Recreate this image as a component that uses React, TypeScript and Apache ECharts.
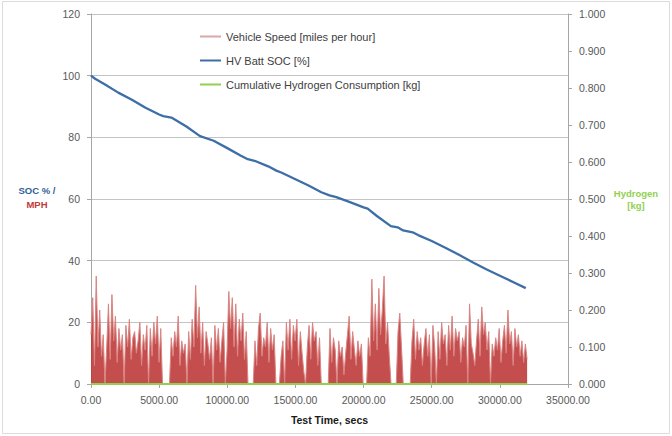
import React, { useEffect, useRef } from "react";
import * as echarts from "echarts";

// Test time step between speed samples (seconds)
const SPEED_STEP = 128;
// Vehicle speed [mph], sampled every SPEED_STEP seconds from t = 0
const speedValues: number[] = [
  16, 28, 6, 35, 12, 24, 9, 16, 0, 12, 26, 8, 29, 14, 22, 7, 18, 11, 16, 0,
  19, 12, 21, 8, 15, 17, 10, 14, 20, 6, 16, 11, 19, 0, 18, 9, 20, 13, 22, 7, 18,
  0, 0, 0, 0, 0,
  15, 9, 17, 12, 22, 6, 14, 10, 13, 0, 17, 8, 21, 12, 32, 15, 25, 10, 20, 6,
  17, 13, 8, 15, 0, 19, 11, 18, 7, 14, 20, 0, 11, 30, 18, 28, 12, 26, 9, 21,
  14, 23, 8, 17,
  0, 0, 0, 0,
  14, 6, 18, 23, 9, 15, 12, 20, 7, 18, 11, 16,
  0, 0, 0,
  9, 14, 0, 20, 11, 21, 8, 19, 14, 21, 6, 17, 10, 4, 0, 12, 19, 8, 20, 14, 17, 6, 15,
  0, 0, 0, 0, 0,
  18, 7, 15, 11, 0, 14, 9, 12, 3, 10, 16, 22, 8, 17, 11, 6, 14, 9, 13,
  0, 0, 0,
  15, 9, 34, 14, 26, 11, 31, 16, 24, 35, 13, 20, 9,
  0, 0, 0, 0,
  17, 23, 12,
  0, 0, 0, 0, 0,
  14, 21, 8, 17, 11, 15, 6, 13, 18, 9, 16, 0, 19, 12,
  0,
  17, 8, 20, 13, 16, 6, 19, 11, 22, 9, 18, 14, 17, 7, 15, 12, 19, 0, 26, 13,
  10, 6, 14, 21, 9, 25, 16, 20, 11, 17, 0, 13, 9, 15, 11, 18, 7, 14, 19, 10,
  24, 13, 17, 6, 18, 12, 16, 9, 14, 7, 13, 8,
];

// HV battery state of charge [%]
const socTimes: number[] = [
  0, 300, 1000, 2000, 3000, 4000, 5000, 5300, 5900, 7000, 8000, 9000, 10000,
  11000, 11500, 12000, 13000, 13600, 14000, 15000, 16000, 16900, 17500, 18000,
  19000, 20000, 20300, 21000, 22000, 22500, 22900, 23600, 24000, 25000, 26000,
  27000, 28000, 29000, 30000, 31000, 31900,
];
const socValues: number[] = [
  100, 99, 97.2, 94.5, 92.2, 89.6, 87.4, 86.9, 86.4, 83.5, 80.4, 78.9, 76.5,
  74.0, 72.9, 72.4, 70.6, 69.2, 68.5, 66.4, 64.3, 62.2, 61.2, 60.6,
  59.0, 57.3, 56.9, 54.4, 51.2, 50.8, 49.8, 49.2, 48.3, 46.4, 44.2,
  41.9, 39.5, 37.2, 35.1, 33.0, 31.1,
];

// Cumulative hydrogen consumption [kg]
const h2Times: number[] = [0, 32000];
const h2Values: number[] = [0, 0];

const xTicks = { min: 0, max: 35000, interval: 5000 };
const leftTicks = { min: 0, max: 120, interval: 20 };
const rightTicks = { min: 0, max: 1, interval: 0.1 };

const SPEED_NAME = "Vehicle Speed [miles per hour]";
const SOC_NAME = "HV Batt SOC [%]";
const H2_NAME = "Cumulative Hydrogen Consumption [kg]";

const FONT = "'Liberation Sans', Arial, sans-serif";

export default function App() {
  const ref = useRef<HTMLDivElement>(null);
  useEffect(() => {
    if (!ref.current) return;
    const chart = echarts.init(ref.current, undefined, { renderer: "svg" });
    const speedData = speedValues.map((v, i) => [i * SPEED_STEP, v]);
    const socData = socTimes.map((t, i) => [t, socValues[i]]);
    const h2Data = h2Times.map((t, i) => [t, h2Values[i]]);
    const axisGray = "#a6a6a6";
    const labelColor = "#595959";
    chart.setOption({
      animation: false,
      backgroundColor: "#ffffff",
      textStyle: { fontFamily: FONT },
      grid: { left: 91, right: 104, top: 14, bottom: 52, containLabel: false },
      legend: {
        orient: "vertical",
        left: 200,
        top: 31,
        itemWidth: 21,
        itemHeight: 2,
        itemGap: 13,
        padding: 0,
        icon: "rect",
        selectedMode: false,
        textStyle: { fontSize: 11, color: "#404040", fontFamily: FONT },
        data: [
          { name: SPEED_NAME, itemStyle: { color: "#d9a9a9" } },
          { name: SOC_NAME, itemStyle: { color: "#3d6fa6" } },
          { name: H2_NAME, itemStyle: { color: "#92d050" } },
        ],
      },
      xAxis: {
        type: "value",
        ...xTicks,
        axisLine: { show: true, lineStyle: { color: axisGray } },
        axisTick: { show: true, length: 4, lineStyle: { color: axisGray } },
        axisLabel: {
          color: labelColor,
          fontSize: 10.5,
          margin: 10,
          formatter: (v: number) => v.toFixed(2),
        },
        splitLine: { show: false },
        name: "Test Time, secs",
        nameLocation: "middle",
        nameGap: 30,
        nameTextStyle: { fontWeight: "bold", fontSize: 10.5, color: "#1a1a1a" },
      },
      yAxis: [
        {
          type: "value",
          ...leftTicks,
          axisLine: { show: true, lineStyle: { color: axisGray } },
          axisTick: { show: true, length: 4, lineStyle: { color: axisGray } },
          axisLabel: { color: labelColor, fontSize: 10.5, margin: 11 },
          splitLine: { show: true, lineStyle: { color: "#c4c4c4", width: 1 } },
        },
        {
          type: "value",
          ...rightTicks,
          position: "right",
          axisLine: { show: true, lineStyle: { color: axisGray } },
          axisTick: { show: true, length: 4, lineStyle: { color: axisGray } },
          axisLabel: {
            color: labelColor,
            fontSize: 10.5,
            margin: 11,
            formatter: (v: number) => v.toFixed(3),
          },
          splitLine: { show: false },
        },
      ],
      series: [
        {
          name: SPEED_NAME,
          type: "line",
          data: speedData,
          showSymbol: false,
          symbol: "none",
          lineStyle: { width: 1, color: "#d98583" },
          itemStyle: { color: "#c0504d" },
          areaStyle: { color: "#bd3b3a", opacity: 0.9 },
          z: 2,
        },
        {
          name: SOC_NAME,
          type: "line",
          data: socData,
          showSymbol: false,
          symbol: "none",
          lineStyle: { width: 2.3, color: "#3d6fa6" },
          itemStyle: { color: "#3d6fa6" },
          z: 3,
        },
        {
          name: H2_NAME,
          type: "line",
          yAxisIndex: 1,
          data: h2Data,
          showSymbol: false,
          symbol: "none",
          lineStyle: { width: 2, color: "#92d050" },
          itemStyle: { color: "#92d050" },
          z: 4,
        },
      ],
      graphic: [
        {
          type: "rect",
          shape: { x: 2.5, y: 1.5, width: 667, height: 432 },
          style: { fill: "none", stroke: "#dcdcdc", lineWidth: 1 },
          silent: true,
        },
        {
          type: "text",
          x: 37,
          y: 190,
          style: {
            text: "SOC % /",
            fill: "#2f5f96",
            font: `bold 9.5px ${FONT}`,
            textAlign: "center",
            textVerticalAlign: "middle",
          },
        },
        {
          type: "text",
          x: 37,
          y: 204,
          style: {
            text: "MPH",
            fill: "#c0393b",
            font: `bold 9.5px ${FONT}`,
            textAlign: "center",
            textVerticalAlign: "middle",
          },
        },
        {
          type: "text",
          x: 636,
          y: 193,
          style: {
            text: "Hydrogen",
            fill: "#92d050",
            font: `bold 9.5px ${FONT}`,
            textAlign: "center",
            textVerticalAlign: "middle",
          },
        },
        {
          type: "text",
          x: 636,
          y: 205,
          style: {
            text: "[kg]",
            fill: "#92d050",
            font: `bold 9.5px ${FONT}`,
            textAlign: "center",
            textVerticalAlign: "middle",
          },
        },
      ],
    });
    return () => chart.dispose();
  }, []);
  return (
    <div
      ref={ref}
      style={{ position: "fixed", left: 0, top: 0, width: 672, height: 436 }}
    />
  );
}
